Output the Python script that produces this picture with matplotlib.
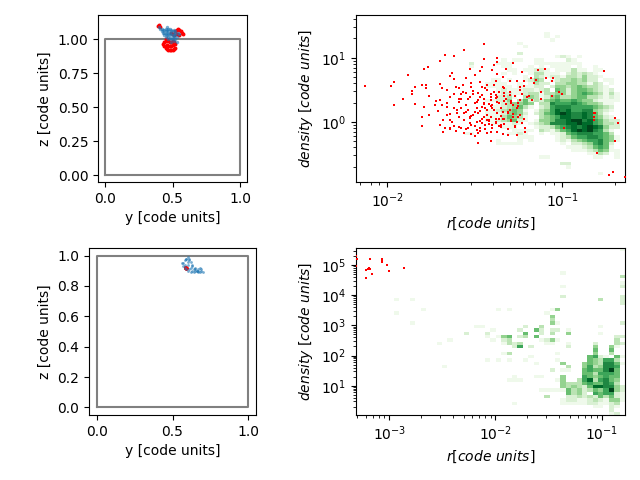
import numpy as np
import matplotlib
matplotlib.use("Agg")
import matplotlib.pyplot as plt

# ---- top row: projected positions
top_gas_y = [0.40,0.41,0.42,0.43,0.44,0.44,0.45,0.45,0.46,0.46,0.47,0.47,0.48,0.48,0.49,0.49,0.50,0.50,0.51,0.51,0.52,0.52,0.53,0.46,0.47,0.48,0.49,0.50,0.51,0.52,0.54,0.55,0.45,0.47,0.49,0.53,0.43,0.44,0.46,0.48,0.50,0.52,0.42,0.45,0.47,0.49,0.51]
top_gas_z = [1.09,1.08,1.08,1.07,1.07,1.05,1.06,1.04,1.07,1.03,1.06,1.02,1.05,1.01,1.04,1.00,1.06,1.00,1.04,0.99,1.03,1.00,1.02,1.09,1.08,1.08,1.07,1.03,1.07,1.06,1.05,1.04,1.02,1.00,0.98,0.98,1.05,1.03,1.05,1.03,1.02,1.05,1.06,1.08,1.04,1.06,1.02]
top_star_y = [0.39,0.40,0.41,0.43,0.44,0.44,0.45,0.45,0.46,0.46,0.46,0.47,0.47,0.47,0.48,0.48,0.48,0.49,0.49,0.49,0.50,0.50,0.50,0.51,0.51,0.52,0.52,0.45,0.49,0.50,0.52,0.53,0.54,0.55,0.56,0.57,0.58,0.55,0.53,0.51]
top_star_z = [1.10,1.11,1.09,0.97,0.98,0.95,0.99,0.94,1.00,0.96,0.93,0.99,0.95,0.92,0.98,0.95,0.92,0.98,0.95,0.92,0.99,0.96,0.92,0.98,0.93,0.97,0.94,1.00,1.05,1.04,1.06,1.07,1.08,1.07,1.06,1.05,1.04,1.03,1.04,1.03]

# ---- bottom row: projected positions
bot_gas_y = [0.58,0.59,0.60,0.61,0.60,0.62,0.57,0.58,0.56,0.57,0.58,0.59,0.60,0.61,0.62,0.63,0.64,0.65,0.66,0.67,0.68,0.69,0.70,0.64,0.66,0.68,0.62,0.65,0.67,0.69,0.63,0.60,0.59,0.61,0.63,0.65,0.67]
bot_gas_z = [0.97,0.98,0.99,0.98,0.96,0.96,0.95,0.94,0.95,0.93,0.92,0.91,0.90,0.91,0.92,0.93,0.91,0.92,0.90,0.91,0.89,0.91,0.89,0.89,0.90,0.92,0.89,0.91,0.89,0.90,0.94,0.94,0.98,0.97,0.90,0.90,0.90]
bot_star_y = [0.58,0.585,0.59,0.595,0.58,0.59]
bot_star_z = [0.925,0.92,0.925,0.915,0.915,0.91]

# ---- top right: star r / density (log10 code units)
top_star_log_r = [-2.13,-1.98,-1.96,-1.96,-1.91,-1.88,-1.86,-1.86,-1.84,-1.84,-1.80,-1.78,-1.78,-1.79,-1.77,-1.70,-1.67,-1.62,-1.56,-1.45,-1.45,-1.37,-1.37,-1.39,-1.46,-1.47,-1.53,-1.50,-1.40,-1.37,-1.63,-1.64,-1.55,-1.62,-1.70,-1.69,-1.66,-1.61,-1.59,-1.52,-1.46,-1.43,-1.38,-1.34,-1.32,-1.28,-1.30,-1.23,-1.26,-1.22,-1.18,-1.14,-1.10,-1.15,-1.09,-1.05,-1.06,-0.76,-1.76,-1.72,-1.73,-1.79,-1.80,-1.80,-1.76,-1.71,-1.68,-1.66,-1.64,-1.59,-1.58,-1.55,-1.54,-1.51,-1.48,-1.45,-1.41,-1.38,-1.33,-1.32,-1.36,-1.40,-1.44,-1.49,-1.54,-1.58,-1.62,-1.66,-1.64,-1.59,-1.56,-1.53,-1.48,-1.45,-1.41,-1.37,-1.34,-1.30,-1.26,-1.28,-1.24,-1.20,-1.19,-1.17,-1.12,-1.06,-1.02,-1.00,-1.12,-1.16,-1.24,-1.22,-1.24,-1.30,-1.33,-1.39,-1.46,-1.70,-1.64,-1.67,-1.62,-1.68,-1.64,-1.61,-1.58,-1.56,-1.54,-1.52,-1.49,-1.47,-1.44,-1.42,-1.38,-1.35,-1.33,-1.28,-1.25,-1.22,-1.27,-1.21,-1.21,-1.26,-1.31,-1.34,-1.37,-1.41,-1.43,-1.47,-1.50,-1.48,-1.41,-0.99,-0.82,-0.81,-0.82,-0.82,-0.70,-0.68,-0.70,-0.80,-0.71,-0.73,-0.64,-1.50,-1.46,-1.43,-1.40,-1.35,-1.31,-1.28,-1.24,-1.36,-1.42,-1.49,-1.53,-1.56,-1.59,-1.64,-1.69,-1.70,-1.59,-1.55,-1.48,-1.44,-1.41,-1.36,-1.52,-1.46,-1.40,-1.35,-1.57,-1.52,-1.47,-1.43,-1.39,-1.34,-1.30,-1.27,-1.23,-1.50,-1.45,-1.41,-1.37,-1.32,-1.29,-1.25,-1.55,-1.50,-1.46,-1.42,-1.38,-1.33,-1.29,-1.26,-1.60,-1.55,-1.51,-1.47,-1.43,-1.39,-1.35,-1.31,-1.52,-1.48,-1.44,-1.40,-1.36,-1.31,-1.27,-1.23,-1.58,-1.53,-1.49,-1.45,-1.41,-1.37,-1.33,-1.29,-1.25,-1.66,-1.62,-1.57,-1.51,-1.47,-1.42,-1.38,-1.33,-1.63,-1.60,-1.53,-1.47,-1.43,-1.38,-1.34,-1.29]
top_star_log_d = [0.56,0.56,0.62,0.26,0.35,0.73,0.48,0.43,0.54,0.28,0.57,0.57,0.53,0.82,0.85,0.95,1.04,1.03,1.12,1.21,0.98,0.99,0.93,0.89,0.85,0.79,0.83,0.73,0.81,0.74,0.76,0.71,0.68,0.67,0.59,0.52,0.49,0.54,0.52,0.55,0.54,0.57,0.63,0.70,0.83,0.91,0.63,0.78,0.63,0.64,0.68,0.81,0.83,0.65,0.68,0.68,0.64,0.79,0.40,0.33,0.26,0.23,0.08,-0.07,0.10,0.17,0.03,0.23,0.39,0.36,0.44,0.45,0.36,0.44,0.45,0.35,0.34,0.42,0.45,0.36,0.29,0.21,0.21,0.21,0.18,0.21,0.21,0.10,0.12,0.08,0.13,0.08,0.13,0.08,0.07,0.13,0.16,0.18,0.21,0.26,0.34,0.39,0.40,0.34,0.36,0.40,0.47,0.44,0.47,0.61,0.55,0.56,0.49,0.47,0.52,0.57,0.42,-0.05,-0.09,-0.10,-0.07,-0.16,-0.12,-0.14,-0.10,-0.17,-0.09,-0.05,-0.13,-0.09,-0.05,-0.03,0.00,-0.05,0.05,0.08,0.07,0.05,-0.08,-0.10,-0.16,-0.21,-0.21,-0.19,-0.16,-0.16,-0.18,-0.14,-0.22,-0.33,-0.30,-0.09,0.13,0.13,0.08,0.03,0.06,-0.02,-0.30,-0.48,-0.79,-0.83,-0.86,0.16,0.23,0.18,0.26,0.21,0.13,0.12,0.10,0.05,0.03,0.00,-0.02,0.03,-0.08,0.03,0.26,0.34,0.31,0.26,0.34,0.52,0.38,0.47,0.09,0.05,-0.05,-0.08,0.58,0.60,0.62,0.49,0.46,0.55,0.42,0.40,0.44,0.30,0.28,0.24,0.31,0.27,0.30,0.24,-0.12,-0.07,-0.02,0.02,-0.02,-0.03,0.02,0.00,0.19,0.15,0.11,0.17,0.10,0.18,0.09,0.15,-0.19,-0.17,-0.12,-0.10,-0.07,-0.11,-0.07,-0.02,0.35,0.39,0.31,0.29,0.43,0.38,0.40,0.32,0.29,0.30,0.43,0.47,0.48,0.39,0.28,0.37,0.32,-0.01,0.14,0.06,0.01,0.03,0.04,0.05,0.03]

# ---- bottom right: star r / density (log10 code units)
bot_star_log_r = [-3.31,-3.30,-3.31,-3.18,-3.07,-3.07,-3.07,-3.02,-3.00,-2.86,-3.22,-3.20,-3.19,-3.18,-3.22,-3.16]
bot_star_log_d = [5.31,5.20,4.95,5.20,5.19,5.16,5.08,5.00,4.80,4.91,4.84,4.86,4.89,4.87,4.57,4.70]

# ---- gas histograms: (row from top, first column, counts per column)
top_hist_rows = [
 (5,35,"1"),(6,35,"101"),(7,36,"1"),(8,30,"1"),(9,31,"1"),
 (11,20,"000000000020"),
 (12,20,"000000000000000001210100"),
 (13,20,"000000010110011000021"),
 (14,20,"020000111000011111111100"),
 (15,20,"010000011000101011110100100"),
 (16,20,"000000001101122101113110110"),
 (17,20,"000000010100133111023232100"),
 (18,20,"000000000001032122133242210"),
 (19,20,"000001101001243012334342201100"),
 (20,20,"000011110010132203344331320100"),
 (21,20,"000011111011122024434543321000"),
 (22,20,"000000121112212305424554321200"),
 (23,20,"000000122112331334424565431310"),
 (24,20,"000000223103431245334553321210"),
 (25,20,"000011224035232456556544211110"),
 (26,20,"000000123445403376667654431100"),
 (27,20,"000001123453102367776666543200"),
 (28,20,"000011234541013468786677432100"),
 (29,20,"000011124542023568987787531000"),
 (30,20,"000011135431003456887787542100"),
 (31,20,"000011234521014457789978653220"),
 (32,20,"000001111210123477788988653320"),
 (33,20,"000000011100012235678789874220"),
 (34,20,"000000000111103213568989763100"),
 (35,20,"110000001121001011256777665300"),
 (36,20,"000000000011100001235667765410"),
 (37,20,"000000100010100001213456675410"),
 (38,20,"000000111110000000102234675200"),
 (39,20,"000000000000000000011123565100"),
 (40,20,"000000000000000000001112354110"),
 (41,20,"000000000000000000000001132010"),
 (42,20,"000000000000001100000000110010"),
 (44,38,"22"),(45,39,"1"),(47,45,"1"),
]
bot_hist_rows = [
 (0,49,"1"),(7,38,"1"),(8,49,"3"),(10,49,"1"),(11,38,"1"),(11,49,"2"),
 (14,38,"2"),(14,49,"2"),(15,7,"1"),(15,10,"1"),(15,45,"3"),(15,49,"2"),
 (16,49,"2"),(18,12,"1"),(18,26,"1"),(18,28,"1"),(18,36,"14"),(19,7,"1"),
 (19,35,"1"),(20,36,"4"),(21,36,"3"),(22,10,"1"),(22,36,"41"),(22,49,"2"),
 (23,22,"11"),(23,31,"2"),(23,34,"3"),(23,45,"1"),
 (24,25,"1"),(24,30,"2"),(24,33,"52"),(24,36,"22"),(24,39,"1"),
 (25,20,"2"),(25,24,"2"),(25,31,"5"),(25,34,"2"),(25,36,"3"),(25,39,"4"),(25,45,"1"),
 (26,24,"1"),(26,26,"145"),(26,30,"2305"),(26,48,"22"),
 (27,17,"1"),(27,25,"1"),(27,27,"23"),(27,34,"1241"),(27,48,"3"),
 (28,15,"1"),(28,27,"1323"),(28,35,"11"),(28,39,"1"),(28,44,"2"),(28,48,"32"),
 (29,29,"26"),(29,32,"2"),(29,39,"2"),(29,44,"4"),(29,47,"41"),
 (30,44,"5"),(30,47,"5"),
 (31,27,"13"),(31,37,"1"),(31,44,"4"),(31,47,"3"),(32,32,"1"),
 (32,43,"5621051"),
 (33,24,"1"),(33,26,"1"),(33,28,"1"),(33,31,"1"),(33,37,"1"),
 (33,43,"543663"),
 (34,33,"1"),(34,38,"4"),(34,42,"4543775"),(34,49,"1"),
 (35,16,"1"),(35,39,"3"),(35,42,"4634776"),
 (36,36,"2"),(36,38,"11"),(36,42,"5655795"),
 (37,42,"5536665"),
 (38,29,"1"),(38,33,"11"),(38,38,"4"),(38,42,"6545655"),
 (39,28,"111"),(39,37,"1"),(39,38,"4"),(39,41,"36836754"),
 (40,38,"43"),(40,40,"33"),(40,42,"565576"),(40,48,"3"),
 (41,38,"4343258877"),(41,48,"42"),
 (42,34,"1111"),(42,38,"15342354"),(42,46,"6942"),
 (43,39,"5342065"),(43,46,"6621"),
 (44,35,"3"),(44,39,"223232535"),(44,48,"21"),
 (45,38,"1"),(45,39,"22112321"),(45,47,"441"),
 (46,29,"1"),(46,38,"11111221"),(46,46,"12"),(46,48,"3"),
 (47,44,"11"),(47,47,"21"),(48,47,"2"),(49,47,"12"),
]

GAS_BLUE = "#1f77b4"
RED = "red"
W, H = 640, 480

def axes_px(fig, x0, x1, y0, y1):
    return fig.add_axes([x0 / W, 1 - y1 / H, (x1 - x0) / W, (y1 - y0) / H])

def grid_from(rows):
    g = np.zeros((50, 50))
    for r, c0, digits in rows:
        for i, ch in enumerate(digits):
            if ch != "0" and c0 + i < 50:
                g[49 - r, c0 + i] = int(ch)
    return np.ma.masked_equal(g, 0)

def box_panel(ax, gy, gz, sy, sz, xlim, ylim, s_star, s_gas):
    ax.plot([0, 1, 1, 0, 0], [0, 0, 1, 1, 0], color="gray", lw=1.5, zorder=1)
    ax.scatter(sy, sz, s=s_star, marker="o", color=RED, linewidths=0, zorder=2)
    ax.scatter(gy, gz, s=s_gas, marker="o", color=GAS_BLUE, alpha=0.6, linewidths=0, zorder=3)
    ax.set_xlim(xlim); ax.set_ylim(ylim)
    ax.set_xlabel("y [code units]"); ax.set_ylabel("z [code units]")
    ax.set_xticks([0, 0.5, 1.0]); ax.set_yticks(np.arange(0, 1.01, 0.25) if ylim[1] > 1.1 else np.arange(0, 1.01, 0.2))

def phase_panel(ax, rows, lr, ld, xlog, ylog):
    xe = np.logspace(xlog[0], xlog[1], 51)
    ye = np.logspace(ylog[0], ylog[1], 51)
    ax.pcolormesh(xe, ye, grid_from(rows), cmap="Greens", vmin=0.5, vmax=9, linewidth=0, rasterized=True)
    ax.scatter(10 ** np.array(lr), 10 ** np.array(ld), s=4.5, marker="s", color=RED, linewidths=0, zorder=3)
    ax.set_xscale("log"); ax.set_yscale("log")
    ax.set_xlim(10 ** xlog[0], 10 ** xlog[1]); ax.set_ylim(10 ** ylog[0], 10 ** ylog[1])
    ax.set_xlabel(r"$r [code\ units]$"); ax.set_ylabel(r"$density\ [code\ units]$")

fig = plt.figure(figsize=(6.4, 4.8), dpi=100)

ax = axes_px(fig, 98, 247, 15, 182)
box_panel(ax, top_gas_y, top_gas_z, top_star_y, top_star_z, (-0.05, 1.05), (-0.05, 1.18), 8, 6)
ax = axes_px(fig, 89, 256, 248, 415)
box_panel(ax, bot_gas_y, bot_gas_z, bot_star_y, bot_star_z, (-0.05, 1.05), (-0.05, 1.05), 5, 4)
ax = axes_px(fig, 356, 625, 15, 182)
phase_panel(ax, top_hist_rows, top_star_log_r, top_star_log_d, (-2.18, -0.64), (-0.94, 1.667))
ax = axes_px(fig, 356, 625, 248, 415)
phase_panel(ax, bot_hist_rows, bot_star_log_r, bot_star_log_d, (-3.314, -0.78), (0.03, 5.56))

fig.savefig("out.png", dpi=100)
